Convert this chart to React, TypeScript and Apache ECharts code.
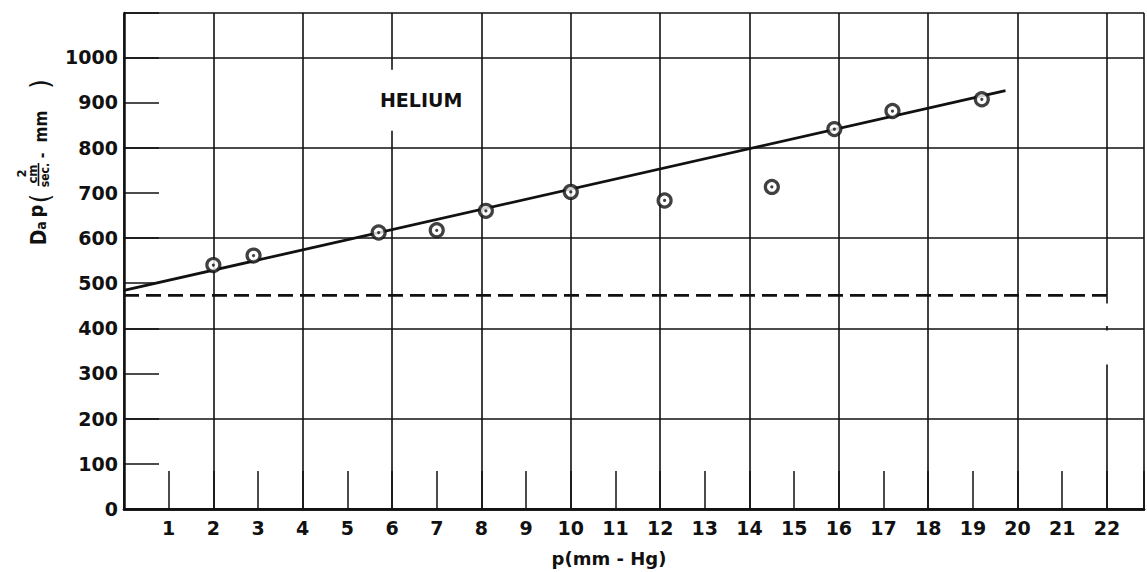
import React, { useEffect, useRef } from "react";
import * as echarts from "echarts";

// Measured points: p (mm-Hg) vs D_a p (cm^2/sec - mm)
const pValues = [2.0, 2.9, 5.7, 7.0, 8.1, 10.0, 12.1, 14.5, 15.9, 17.2, 19.2];
const dapValues = [540, 561, 612, 617, 660, 702, 683, 713, 841, 881, 907];

// Fitted straight line end points
const fitX = [0, 19.73];
const fitY = [484, 926];

// Dashed reference level
const dashedLevel = 473;
const dashedX = [0, 22];

// Label position (data coords)
const heliumAt = [6.65, 905];

// White gaps in the x = 22 grid line
const gapSegments: (number | string)[][] = [
  [22, 320],
  [22, 395],
  [22, "-"],
  [22, 405],
  [22, 455],
];

const xMax = 22.83;
const yMax = 1098;
const INK = "#111";
const FONT = "DejaVu Sans";
const NAME_FONT = '"DejaVu Sans Condensed", "DejaVu Sans"';

export default function App() {
  const ref = useRef<HTMLDivElement>(null);

  useEffect(() => {
    if (!ref.current) return;
    const chart = echarts.init(ref.current, undefined, { renderer: "svg" });

    const points = pValues.map((p, i) => [p, dapValues[i]]);
    const fit = fitX.map((x, i) => [x, fitY[i]]);
    const dashed = dashedX.map((x) => [x, dashedLevel]);

    const labelStyle = {
      color: INK,
      fontFamily: FONT,
      fontWeight: "bold" as const,
      fontSize: 19,
    };

    const txt = (
      text: string,
      x: number,
      y: number,
      size: number,
      weight: string = "bold"
    ) => ({
      type: "text",
      style: {
        text,
        x,
        y,
        fill: INK,
        font: `${weight} ${size}px ${NAME_FONT}`,
        textAlign: "center",
        textVerticalAlign: "middle",
      },
    });

    chart.setOption({
      animation: false,
      backgroundColor: "#fff",
      grid: { left: 124, top: 13, right: 0, bottom: 62, containLabel: false },
      xAxis: [
        {
          type: "value",
          min: 0,
          max: xMax,
          interval: 1,
          position: "bottom",
          axisLine: { show: true, lineStyle: { color: INK, width: 2.5 } },
          axisTick: { show: true, inside: true, length: 38, lineStyle: { color: INK, width: 1.5 } },
          axisLabel: {
            ...labelStyle,
            margin: 9,
            formatter: (v: number) =>
              v >= 1 && v <= 22 && Math.abs(v - Math.round(v)) < 1e-6 ? String(Math.round(v)) : "",
          },
          splitLine: { show: false },
          name: "p(mm - Hg)",
          nameLocation: "middle",
          nameGap: 40,
          nameTextStyle: { ...labelStyle, fontSize: 18, padding: [0, 50, 0, 0] },
        },
        {
          type: "value",
          min: 0,
          max: xMax,
          interval: 2,
          position: "top",
          axisLine: { show: true, lineStyle: { color: INK, width: 2.5 } },
          axisTick: { show: false },
          axisLabel: { show: false },
          splitLine: { show: true, lineStyle: { color: INK, width: 1.6 } },
        },
      ],
      yAxis: [
        {
          type: "value",
          min: 0,
          max: yMax,
          interval: 100,
          position: "left",
          axisLine: { show: true, lineStyle: { color: INK, width: 2.5 } },
          axisTick: { show: true, inside: true, length: 35, lineStyle: { color: INK, width: 1.5 } },
          axisLabel: {
            ...labelStyle,
            margin: 6,
            formatter: (v: number) => (v <= 1000 && v % 100 === 0 ? String(v) : ""),
          },
          splitLine: { show: false },
        },
        {
          type: "value",
          min: 0,
          max: yMax,
          interval: 200,
          position: "right",
          axisLine: { show: false },
          axisTick: { show: false },
          axisLabel: { show: false },
          splitLine: { show: true, lineStyle: { color: INK, width: 1.6 } },
        },
      ],
      series: [
        {
          type: "line",
          data: gapSegments,
          xAxisIndex: 0,
          yAxisIndex: 0,
          symbol: "none",
          connectNulls: false,
          lineStyle: { color: "#fff", width: 4 },
          z: 1,
          silent: true,
        },
        {
          type: "line",
          data: dashed,
          symbol: "none",
          lineStyle: { color: INK, width: 2.6, type: [15, 7] },
          z: 2,
        },
        {
          type: "line",
          data: fit,
          symbol: "none",
          lineStyle: { color: INK, width: 2.8 },
          z: 3,
          markPoint: {
            symbol: "circle",
            symbolSize: 1,
            itemStyle: { color: "rgba(0,0,0,0)" },
            data: [
              {
                coord: heliumAt,
                label: {
                  show: true,
                  position: "inside",
                  formatter: "HELIUM",
                  ...labelStyle,
                  backgroundColor: "#fff",
                  padding: [21, 3],
                },
              },
            ],
          },
        },
        {
          type: "scatter",
          data: points,
          symbol: "circle",
          symbolSize: 13,
          itemStyle: { color: "#fff", borderColor: INK, borderWidth: 3.2 },
          z: 4,
        },
        {
          type: "scatter",
          data: points,
          symbol: "circle",
          symbolSize: 3.2,
          itemStyle: { color: INK },
          z: 5,
        },
      ],
      graphic: [
        {
          type: "group",
          x: 46,
          y: 245,
          rotation: Math.PI / 2,
          children: [
            txt("D", 7.5, -7.5, 21),
            txt("a", 19.5, -5, 14),
            txt("p", 34, -9.6, 20),
            txt("(", 46.5, -7, 27, "normal"),
            txt("cm", 71, -13.5, 13),
            txt("2", 71.5, -24.5, 13),
            {
              type: "line",
              shape: { x1: 59, y1: -7.5, x2: 82, y2: -7.5 },
              style: { stroke: INK, lineWidth: 1.6 },
            },
            txt("sec.", 70, -1, 12),
            txt("-", 89.5, -4, 15),
            txt("mm", 118.5, -5, 17),
            txt(")", 161, -7, 27, "normal"),
          ],
        },
      ],
    });

    return () => chart.dispose();
  }, []);

  return (
    <div
      ref={ref}
      style={{ position: "fixed", left: 0, top: 0, width: 1147, height: 572 }}
    />
  );
}
